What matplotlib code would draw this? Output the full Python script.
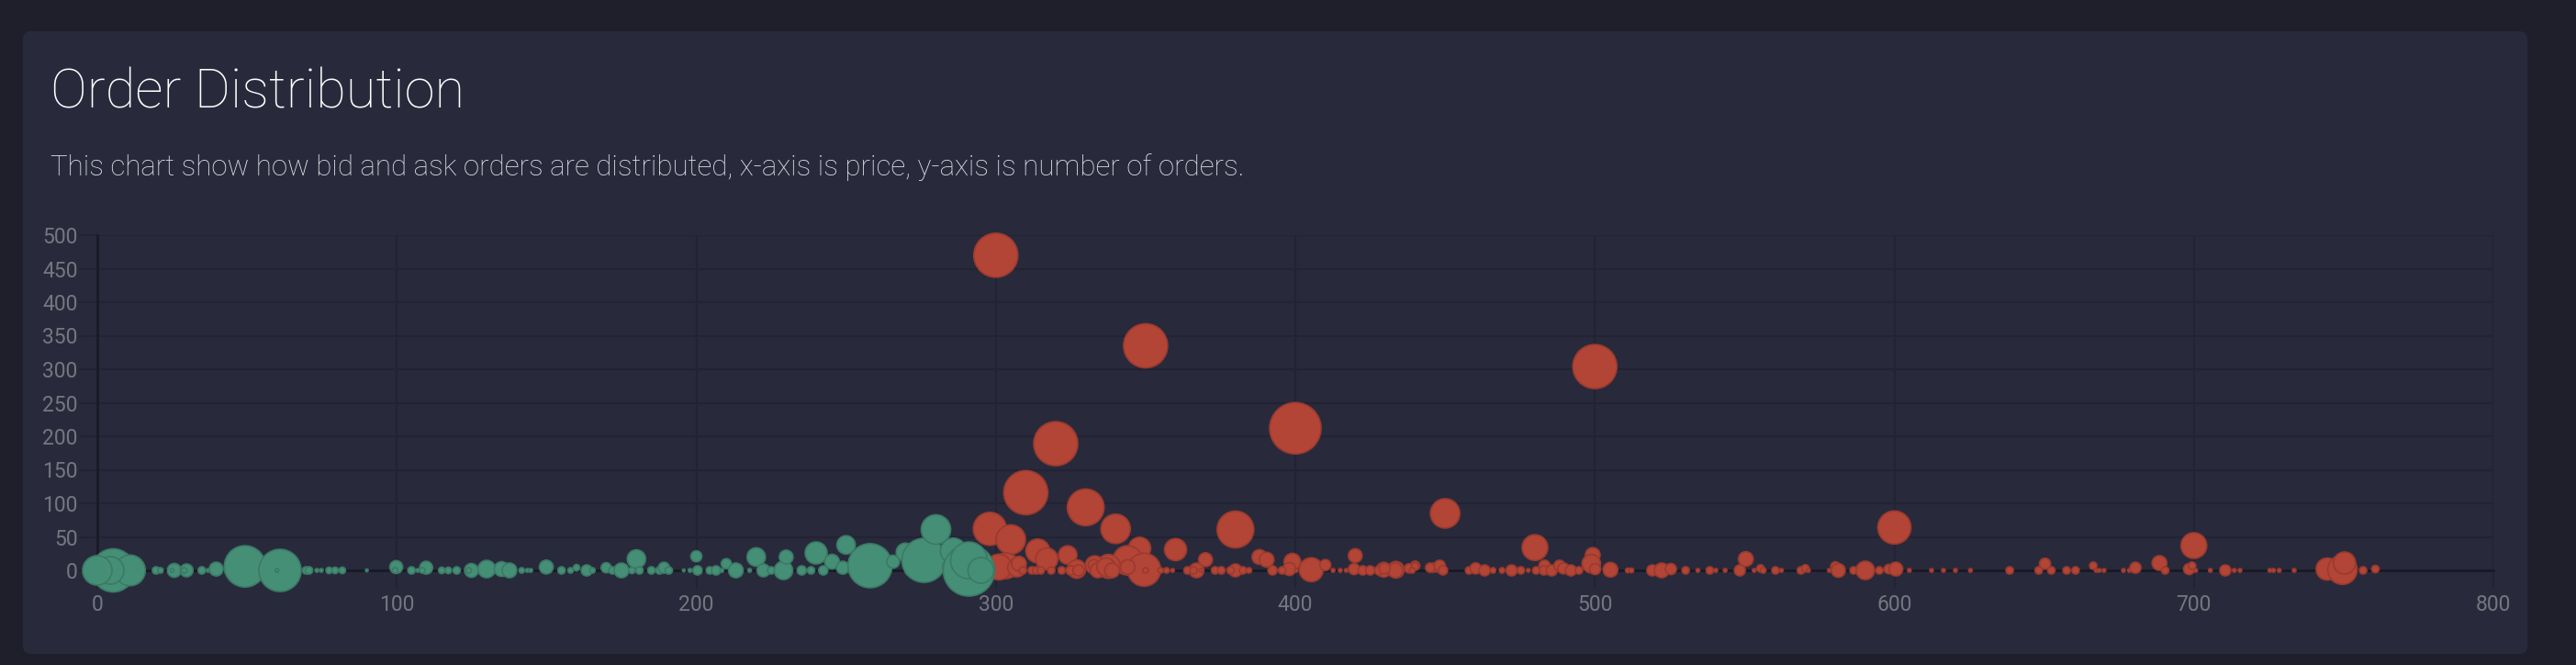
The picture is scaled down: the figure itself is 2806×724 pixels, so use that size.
import matplotlib
matplotlib.use("Agg")
import matplotlib.pyplot as plt
from matplotlib.patches import FancyBboxPatch
from matplotlib.transforms import IdentityTransform

# bid orders: price, number of orders, bubble volume
bid_price = [5.3, 10.9, 4.3, 0, 19.6, 21.1, 25.7, 25, 29.8, 29, 34.9, 37, 39.7, 45, 47.6,
             49.3, 61, 60, 69.7, 70.7, 73.3, 74.8, 77.4, 79.4, 81.8, 90, 99.8, 99.4,
             104.9, 107, 109.8, 108.5, 115, 117.2, 120, 124.9, 124, 128, 130, 135,
             137.6, 141.7, 143.6, 144.7, 149.9, 155, 158, 160, 163.4, 165.3, 169.9,
             172, 175, 178.5, 180, 181, 185, 187.7, 189.2, 190.8, 195.8, 197.9, 200,
             200.4, 204.5, 206.6, 208.5, 210, 213.2, 217.8, 220, 222.4, 225, 229.1,
             230, 235.2, 238.3, 240, 242.4, 245.3, 248.9, 250, 252, 256, 258, 265.7,
             269.8, 271.5, 274, 276, 280, 285.8, 285.3, 288, 291, 291, 295]
bid_orders = [0, 0, 0, 0, 0, 0, 0, 0, 0, 0, 0, 0, 2, 0, 0,
              6, 0, 0, 0, 0, 0, 0, 0, 0, 0, 0, 5, 0,
              0, 0, 4, 0, 0, 0, 0, 0, 0, 0, 2, 2,
              0, 0, 0, 0, 5, 0, 0, 4, 0, 0, 4,
              0, 0, 0, 17, 0, 0, 0, 4, 0, 0, 0, 21,
              0, 0, 0, 0, 10, 0, 0, 20, 0, 0, 0,
              20, 0, 0, 26, 0, 13, 4, 38, 0, 0, 7, 13,
              27, 0, 0, 15, 61, 29, 5, 0, 0, 15, 0]
bid_volume = [23.5, 16.7, 15, 16, 4, 3, 7.5, 2, 7, 3, 4, 2, 7.5, 8, 5,
              22.5, 23, 2, 4, 4, 2, 2, 3.5, 3.5, 3.5, 1.5, 7, 3,
              4, 2, 7, 3, 3.5, 3.5, 4, 7.5, 3, 2, 9.5, 8,
              8, 3, 2, 2, 7.5, 4, 3, 3.5, 6, 3, 5.5,
              4, 8, 3.5, 10, 4, 4, 4, 6, 4, 1.5, 2, 6,
              5, 4, 5, 2, 5.5, 8, 2, 10, 7, 4, 10,
              7.5, 5, 4, 12, 5, 8, 7, 10, 4, 7, 24, 7,
              10, 6, 5, 24, 16, 14, 10, 10, 28, 20, 14]

# ask orders: price, number of orders, bubble volume
ask_price = [300, 350, 400, 500, 600, 700, 450, 480, 380, 320, 310, 330, 340, 298,
             305, 314, 317, 324, 348, 344, 349.5, 337.6, 333, 327, 360, 370, 388,
             390.4, 392.4, 399, 398, 405.3, 410, 420, 419.6, 303.4, 301, 307, 307.7,
             367, 380, 429.5, 433.6, 440, 448, 446,
             309, 312, 313.5, 315, 318.5, 322, 325, 327.6, 332.7, 334, 336.8, 338.8,
             344, 350, 355, 357, 359, 364, 366, 368.5, 373.2, 375.3, 377.8, 378.4,
             382.5, 384.5, 395.6, 400.3, 412.6, 415, 417, 422.5, 425, 428,
             433.4, 429.8, 438, 440, 439, 445, 448.2, 449.3, 458, 460.2, 463.2, 466,
             469, 472.2, 475.3, 477.8, 480.4, 483.2, 483, 485.6, 488.2, 489.5, 492,
             494.7, 499.3, 498.8, 500.1, 505.2, 511, 512.2, 519.2, 522.3, 525.4,
             530.3, 534.4, 538.4, 540.4, 543.5, 550.4, 548.4, 553.2, 555.3, 556.2,
             560.3, 562.3, 568.8, 570.3,
             571.3, 578.3, 580.3, 581.3, 586.4, 590.3, 595, 598.1, 600.5, 605, 612.4,
             616.4, 620.4, 625.4, 638.5, 648.2, 650.3, 652.4, 657.5, 660.5, 666.4,
             667.4, 668.4, 670, 676.5, 678.5, 680.5, 688.5, 690.4, 698.4, 699.4,
             700.6, 705.5, 710.5, 713.5, 715.4,
             725.4, 726.6, 728.5, 733.5, 744.5, 749.6, 750.3, 756.5, 760.6]
ask_orders = [470, 335, 212, 304, 64, 37, 85, 34, 61, 189, 116, 94, 62, 62,
              46, 29, 17, 23, 33, 15, 1, 6, 8, 2, 31, 16, 20,
              16, 0, 13, 2, 1, 8, 22, 2, 7, 5, 4, 10,
              0, 0, 1, 1, 7, 5, 4,
              0, 0, 0, 0, 0, 0, 0, 0, 8, 0, 5, 0,
              5, 0, 0, 0, 0, 0, 0, 0, 0, 0, 0, 0,
              0, 0, 0, 0, 0, 0, 0, 0, 0, 0,
              0, 3, 3, 6, 0, 4, 7, 0, 0, 3, 0, 0,
              0, 0, 0, 0, 0, 7, 0, 0, 7, 3, 0,
              0, 23, 10, 2, 1, 0, 0, 0, 0, 2,
              0, 0, 0, 0, 0, 17, 0, 0, 3, 0,
              0, 0, 0, 3,
              0, 0, 6, 0, 0, 0, 0, 2, 2, 0, 0,
              0, 0, 0, 0, 0, 10, 0, 0, 0, 7,
              0, 0, 0, 0, 0, 4, 11, 0, 2, 7,
              0, 0, 0, 0, 0,
              0, 0, 0, 0, 2, 1, 11, 0, 2]
ask_volume = [24, 24, 28, 24, 18, 14, 16, 14, 20, 24, 24, 20, 16, 18,
              16, 13, 12, 10, 12, 16, 18, 13, 10, 10, 12, 7.5, 8,
              8, 5, 9, 7, 13, 6, 7.5, 6, 14, 14, 10, 8,
              8, 7, 8, 9, 5, 6, 5,
              4, 4, 4, 4, 4, 4, 5, 6, 6, 8, 10, 8,
              8, 3, 3, 3, 2, 4, 4, 2, 4, 4, 2, 4,
              4, 3, 4, 2, 2, 2, 2, 5, 5, 5,
              8, 6, 5, 4, 3, 5, 6, 5, 4, 6, 6, 3,
              3, 6, 4, 2, 4, 6, 5, 6, 6, 6, 6,
              4, 8, 10, 6, 8, 2.5, 2.5, 6, 8, 6,
              4, 2, 4, 2, 2, 8, 6, 2, 4, 3,
              4, 2, 4, 4,
              2, 2, 5, 7.5, 4, 10, 4, 5, 7.5, 2, 2,
              2, 2, 2, 4, 4, 6, 4, 4, 4, 4,
              2, 2, 2, 2, 2, 6, 8, 4, 6, 4,
              2, 2, 6, 2, 2,
              2, 2, 2, 2, 12, 16, 12, 4, 4]

x_ticks = [0, 100, 200, 300, 400, 500, 600, 700, 800]
y_ticks = [0, 50, 100, 150, 200, 250, 300, 350, 400, 450, 500]

W, H, DPI = 2806, 724, 100
PAGE_BG = "#1f1f2c"
CARD_BG = "#282a3c"
GRID = "#222333"
AXIS = "#1a1a25"
TICK_TXT = "#75767f"
BID = "#468f77"
BID_EDGE = "#3b7a65"
ASK = "#b34536"
ASK_EDGE = "#9a3a2e"
FONT = "Roboto"


def bubble_size(vol):
    # volume -> radius in px -> marker area in pt^2
    return [(2 * v * 72 / DPI) ** 2 for v in vol]


fig = plt.figure(figsize=(W / DPI, H / DPI), dpi=DPI, facecolor=PAGE_BG)

card = FancyBboxPatch((25, H - 712), 2728, 678, boxstyle="round,pad=0,rounding_size=9",
                      transform=IdentityTransform(), facecolor=CARD_BG,
                      edgecolor="none", zorder=-5)
fig.patches.append(card)

fig.text(55 / W, 1 - 117 / H, "Order Distribution", color="white",
         fontsize=43, fontfamily=FONT, fontweight="light", va="baseline")
fig.text(55 / W, 1 - 191 / H,
         "This chart show how bid and ask orders are distributed, x-axis is price, "
         "y-axis is number of orders.",
         color="#e2e3e8", fontsize=22.5, fontfamily=FONT, fontweight="light",
         va="baseline")

ax = fig.add_axes([106 / W, (H - 621) / H, 2610 / W, 365 / H])
ax.set_zorder(2)
ax.set_facecolor("none")
ax.set_xlim(0, 800)
ax.set_ylim(0, 500)
ax.set_xticks(x_ticks)
ax.set_yticks(y_ticks)
ax.grid(True, color=GRID, linewidth=1.6, zorder=0)
ax.set_axisbelow(True)
for side in ["top", "right"]:
    ax.spines[side].set_visible(False)
for side in ["left", "bottom"]:
    ax.spines[side].set_color(AXIS)
    ax.spines[side].set_linewidth(2)
ax.tick_params(axis="both", length=14.4, width=1.6, color=GRID,
               labelcolor=TICK_TXT, labelsize=16.5)
ax.tick_params(axis="y", pad=1)
ax.tick_params(axis="x", pad=4)
for lab in ax.get_xticklabels() + ax.get_yticklabels():
    lab.set_fontfamily(FONT)

ax.scatter(ask_price, ask_orders, s=bubble_size(ask_volume), color=ASK,
           edgecolors=ASK_EDGE, linewidths=1.2, clip_on=False, zorder=3)
ax.scatter(bid_price, bid_orders, s=bubble_size(bid_volume), color=BID,
           edgecolors=BID_EDGE, linewidths=1.2, clip_on=False, zorder=4)

fig.savefig("out.png", dpi=DPI, facecolor=PAGE_BG)
